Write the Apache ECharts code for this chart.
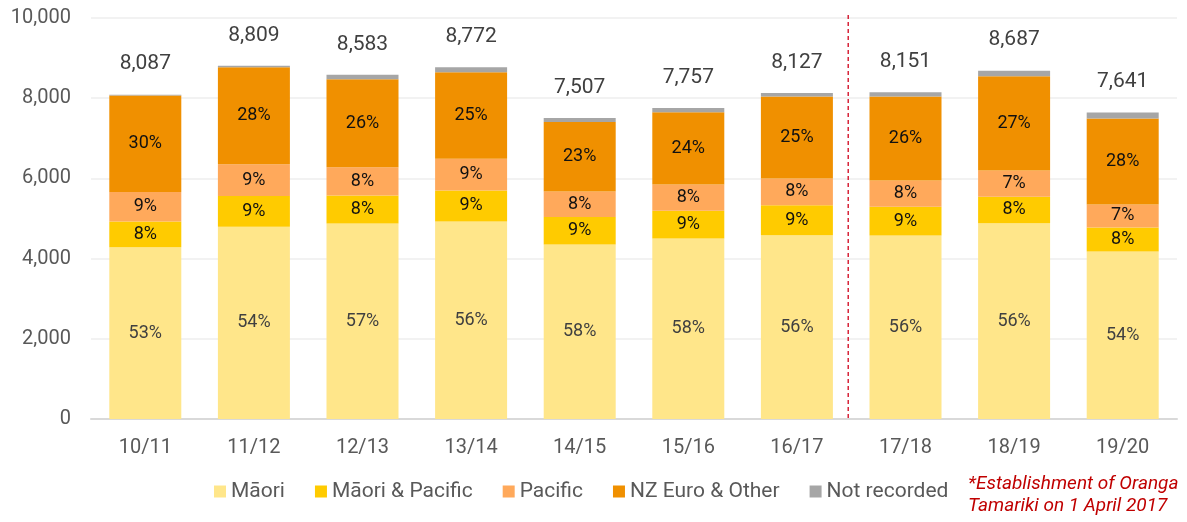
<!DOCTYPE html>
<html>
<head>
<meta charset="utf-8">
<script src="https://cdn.jsdelivr.net/npm/echarts@6/dist/echarts.min.js"></script>
<style>
html,body{margin:0;padding:0;background:#fff;}
#c{width:1187px;height:522px;}
</style>
</head>
<body>
<div id="c"></div>
<script>
const categories = ['10/11','11/12','12/13','13/14','14/15','15/16','16/17','17/18','18/19','19/20'];
const totals = [8087, 8809, 8583, 8772, 7507, 7757, 8127, 8151, 8687, 7641];
const maori = [4283, 4795, 4875, 4925, 4350, 4500, 4583, 4575, 4883, 4180];
const maoriPacific = [640, 765, 700, 775, 690, 692, 750, 717, 659, 595];
const pacific = [740, 790, 700, 792, 633, 658, 667, 658, 658, 575];
const nzEuroOther = [2405, 2420, 2200, 2158, 1735, 1800, 2042, 2092, 2350, 2142];
const notRecorded = [19, 39, 108, 122, 99, 107, 85, 109, 137, 149];
const pctMaori = ['53%','54%','57%','56%','58%','58%','56%','56%','56%','54%'];
const pctMaoriPacific = ['8%','9%','8%','9%','9%','9%','9%','9%','8%','8%'];
const pctPacific = ['9%','9%','8%','9%','8%','8%','8%','8%','7%','7%'];
const pctNzEuro = ['30%','28%','26%','25%','23%','24%','25%','26%','27%','28%'];
// the dashed marker sits between these two categories
const markerBetween = ['16/17', '17/18'];

const FONT = 'Roboto';
const chart = echarts.init(document.getElementById('c'), null, {renderer:'canvas'});

function seg(name, data, color, labels, labelColor) {
  return {
    name, type:'bar', stack:'t', data, barWidth:72,
    itemStyle:{color},
    label: labels ? {
      show:true, position:'inside', fontFamily:FONT, fontSize:18, color:labelColor,
      formatter: p => labels[p.dataIndex]
    } : {show:false},
    emphasis:{disabled:true}
  };
}

const series = [
  seg('Māori', maori, '#FFE68A', pctMaori, '#404040'),
  seg('Māori & Pacific', maoriPacific, '#FFCB00', pctMaoriPacific, '#111'),
  seg('Pacific', pacific, '#FFA95B', pctPacific, '#111'),
  seg('NZ Euro & Other', nzEuroOther, '#F09000', pctNzEuro, '#111'),
  Object.assign(seg('Not recorded', notRecorded, '#A6A6A6', null), {
    label:{show:true, position:'top', distance:20, fontFamily:FONT, fontSize:21, color:'#404040',
      formatter: p => totals[p.dataIndex].toLocaleString('en-US')}
  })
];

const annotation = {
  type:'text', left:968, top:473,
  style:{text:'*Establishment of Oranga\nTamariki on 1 April 2017', fill:'#C00000',
    font:'italic 19px Roboto', lineHeight:22}
};

chart.setOption({
  animation:false,
  textStyle:{fontFamily:FONT},
  grid:{left:91, right:10, top:18, bottom:103},
  xAxis:{
    type:'category', data:categories,
    axisLine:{lineStyle:{color:'#D9D9D9', width:2}},
    axisTick:{show:false},
    axisLabel:{fontFamily:FONT, fontSize:20, color:'#595959', margin:19}
  },
  yAxis:{
    type:'value', min:0, max:10000, interval:2000,
    axisLine:{show:false}, axisTick:{show:false},
    splitLine:{lineStyle:{color:'#EEEEEE', width:1.5}},
    axisLabel:{fontFamily:FONT, fontSize:20, color:'#595959', margin:20,
      formatter: v => v.toLocaleString('en-US')}
  },
  legend:{
    left:209, top:476, itemWidth:12, itemHeight:12, itemGap:30,
    icon:'rect',
    textStyle:{fontFamily:FONT, fontSize:21, color:'#595959'},
    data:['Māori','Māori & Pacific','Pacific','NZ Euro & Other','Not recorded']
  },
  graphic:[annotation],
  series
});

// dashed divider placed midway between the two categories, via the axis scale
const xa = chart.convertToPixel({xAxisIndex:0}, markerBetween[0]);
const xb = chart.convertToPixel({xAxisIndex:0}, markerBetween[1]);
const yTop = chart.convertToPixel({yAxisIndex:0}, 10000) - 3;
const yBot = chart.convertToPixel({yAxisIndex:0}, 0);
const xm = (xa + xb) / 2 - 3;
chart.setOption({
  graphic:[annotation, {
    type:'line', silent:true, z:10,
    shape:{x1:xm, y1:yTop, x2:xm, y2:yBot},
    style:{stroke:'#D0021B', lineWidth:1.3, lineDash:[4,3]}
  }]
});
</script>
</body>
</html>
